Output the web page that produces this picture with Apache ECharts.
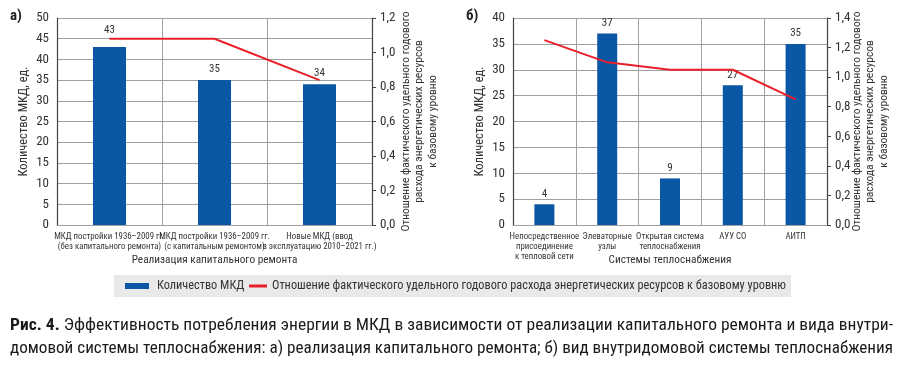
<!DOCTYPE html>
<html><head><meta charset="utf-8">
<script src="https://cdn.jsdelivr.net/npm/echarts@6/dist/echarts.min.js"></script>
<style>html,body{margin:0;padding:0;background:#fff}#c{width:900px;height:365px}</style>
</head><body><div id="c"></div>
<script>
const catsA = ['МКД постройки 1936–2009 гг.\n(без капитального ремонта)', 'МКД постройки 1936–2009 гг.\n(с капитальным ремонтом)', 'Новые МКД (ввод\nв эксплуатацию 2010–2021 гг.)'];
const barsA = [43, 35, 34];
const lineA = [1.08, 1.08, 0.84];
const catsB = ['Непосредственное\nприсоединение\nк тепловой сети', 'Элеваторные\nузлы', 'Открытая система\nтеплоснабжения', 'АУУ СО', 'АИТП'];
const barsB = [4, 37, 9, 27, 35];
const lineB = [1.25, 1.10, 1.05, 1.05, 0.85];
const barName = 'Количество МКД';
const lineName = 'Отношение фактического удельного годового расхода энергетических ресурсов к базовому уровню';
const rightAxisName = 'Отношение фактического удельного годового\nрасхода энергетических ресурсов\nк базовому уровню';
const leftAxisName = 'Количество МКД, ед.';
const xNameA = 'Реализация капитального ремонта';
const xNameB = 'Системы теплоснабжения';
const captionBold = 'Рис. 4.';
const caption1 = ' Эффективность потребления энергии в МКД в зависимости от реализации капитального ремонта и вида внутри-';
const caption2 = 'домовой системы теплоснабжения: а) реализация капитального ремонта; б) вид внутридомовой системы теплоснабжения';

const TXT = '#333';
const BLUE = '#0a57a6';
const RED = '#e8202a';
const GRID = '#a0a0a0';
const FONT = '"Roboto Condensed", "Liberation Sans Narrow", Roboto, sans-serif';
const comma = v => v.toFixed(1).replace('.', ',');

function xAxis(gi, cats, name) {
  return {
    type: 'category', gridIndex: gi, data: cats,
    axisLine: {show: true, lineStyle: {color: GRID, width: 1}},
    axisTick: {show: false},
    splitLine: {show: true, lineStyle: {color: GRID, width: 1}},
    axisLabel: {interval: 0, fontSize: 8.8, lineHeight: 10, color: TXT, margin: 7, fontFamily: FONT},
    name: name, nameLocation: 'middle', nameGap: 30, nameMoveOverlap: false,
    nameTextStyle: {fontSize: 11.3, color: TXT, fontFamily: FONT, verticalAlign: 'top'}
  };
}
function yLeft(gi, max) {
  return {
    type: 'value', gridIndex: gi, min: 0, max: max, interval: 5, position: 'left',
    axisLine: {show: true, lineStyle: {color: '#444', width: 1.2}},
    axisTick: {show: false},
    splitLine: {show: true, lineStyle: {color: GRID, width: 1}},
    axisLabel: {fontSize: 13, color: TXT, margin: 8, fontFamily: FONT},
    name: leftAxisName, nameLocation: 'middle', nameGap: 27, nameRotate: 90, nameMoveOverlap: false,
    nameTextStyle: {fontSize: 12.5, color: TXT, fontFamily: FONT}
  };
}
function yRight(gi, max, gap) {
  return {
    type: 'value', gridIndex: gi, min: 0, max: max, interval: 0.2, position: 'right',
    axisLine: {show: true, lineStyle: {color: '#444', width: 1.2}},
    axisTick: {show: true, inside: false, length: 4, lineStyle: {color: '#444'}},
    splitLine: {show: false},
    axisLabel: {fontSize: 13, color: TXT, margin: 8, fontFamily: FONT, formatter: comma},
    name: rightAxisName, nameLocation: 'middle', nameGap: gap, nameRotate: 90, nameMoveOverlap: false,
    nameTextStyle: {fontSize: 11.5, lineHeight: 13.5, color: TXT, fontFamily: FONT, verticalAlign: 'top'}
  };
}
const barLabel = {show: true, position: 'top', distance: 5, fontSize: 11, color: TXT, fontFamily: FONT};
// first bar label of panel a sits higher, above the red line
const barsAData = barsA.map((v, i) => i === 0 ? {value: v, label: {distance: 11}} : v);

const CAPF = '"Roboto Condensed", "Liberation Sans Narrow", "Liberation Sans", sans-serif';
const mctx = document.createElement('canvas').getContext('2d');
function w(str, font) { mctx.font = font; return mctx.measureText(str).width; }
const capReg = '17px ' + CAPF, capBold = 'bold 17px ' + CAPF;
const s1 = 883 / (w(captionBold, capBold) + w(caption1, capReg));
const s2 = 883 / w(caption2, capReg);

const chart = echarts.init(document.getElementById('c'), null, {renderer: 'canvas'});
chart.setOption({
  animation: false,
  backgroundColor: '#fff',
  textStyle: {fontFamily: FONT},
  grid: [
    {left: 57, right: 528, top: 18, bottom: 140},
    {left: 513, right: 73, top: 18, bottom: 140}
  ],
  xAxis: [xAxis(0, catsA, xNameA), xAxis(1, catsB, xNameB)],
  yAxis: [yLeft(0, 50), yRight(0, 1.2, 27), yLeft(1, 40), yRight(1, 1.4, 23)],
  legend: [
    {data: [barName], left: 125, top: 280, itemWidth: 24, itemHeight: 6, icon: 'rect', padding: 0, itemGap: 6,
     textStyle: {fontSize: 12.3, color: TXT, fontFamily: FONT, padding: [0, 0, 0, 3]}},
    {data: [lineName], left: 249, top: 280, itemWidth: 18, itemHeight: 3, icon: 'rect', padding: 0,
     textStyle: {fontSize: 12.3, color: TXT, fontFamily: FONT}}
  ],
  series: [
    {type: 'bar', name: barName, xAxisIndex: 0, yAxisIndex: 0, data: barsAData, barWidth: 33, itemStyle: {color: BLUE}, label: barLabel},
    {type: 'line', name: lineName, xAxisIndex: 0, yAxisIndex: 1, data: lineA, symbol: 'none', lineStyle: {color: RED, width: 2}, itemStyle: {color: RED}},
    {type: 'bar', name: barName, xAxisIndex: 1, yAxisIndex: 2, data: barsB, barWidth: 20, itemStyle: {color: BLUE}, label: barLabel},
    {type: 'line', name: lineName, xAxisIndex: 1, yAxisIndex: 3, data: lineB, symbol: 'none', lineStyle: {color: RED, width: 2}, itemStyle: {color: RED}}
  ],
  graphic: [
    {type: 'rect', z: -1, shape: {x: 114, y: 275, width: 677, height: 22}, style: {fill: '#e9e9e9'}},
    {type: 'text', left: 10, top: 9, style: {text: 'а)', font: 'bold 15px ' + FONT, fill: '#222'}},
    {type: 'text', left: 466, top: 9, style: {text: 'б)', font: 'bold 15px ' + FONT, fill: '#222'}},
    {type: 'text', x: 10, y: 317, scaleX: s1, style: {
      text: '{b|' + captionBold + '}' + caption1,
      rich: {b: {font: capBold, fill: '#1a1a1a'}},
      font: capReg, fill: '#1a1a1a'}},
    {type: 'text', x: 10, y: 340, scaleX: s2, style: {
      text: caption2, font: capReg, fill: '#1a1a1a'}}
  ]
});
</script></body></html>
